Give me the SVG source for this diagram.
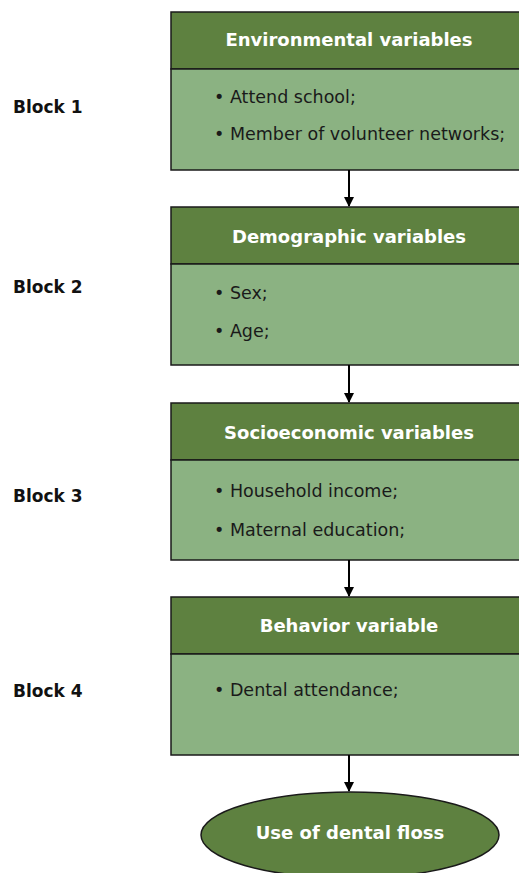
<svg xmlns="http://www.w3.org/2000/svg" width="519" height="873" viewBox="0 0 519 873">
<style>
.hd{fill:#5e8140;stroke:#1a1a1a;stroke-width:1.5}
.bd{fill:#8bb282;stroke:#1a1a1a;stroke-width:1.5}
.ht{font-family:"DejaVu Sans","Liberation Sans",sans-serif;font-weight:bold;font-size:18px;fill:#fff;text-anchor:middle}
.bt{font-family:"DejaVu Sans","Liberation Sans",sans-serif;font-size:17.5px;fill:#1a1a1a}
.bl{font-family:"DejaVu Sans","Liberation Sans",sans-serif;font-weight:bold;font-size:17px;fill:#111}
.cn{stroke:#000;stroke-width:2;fill:none}
</style>
<defs>
<marker id="ah" markerWidth="10" markerHeight="10" refX="9" refY="5" orient="auto" markerUnits="userSpaceOnUse">
<path d="M0,0 L10,5 L0,10 Z" fill="#000"/>
</marker>
</defs>
<g id="labels">
<text class="bl" x="13" y="113">Block 1</text>
<text class="bl" x="13" y="293">Block 2</text>
<text class="bl" x="13" y="502">Block 3</text>
<text class="bl" x="13" y="697">Block 4</text>
</g>
<g id="block1">
<rect class="hd" x="171" y="12" width="350" height="57"/>
<rect class="bd" x="171" y="69" width="350" height="101"/>
<text class="ht" x="349" y="46">Environmental variables</text>
<text class="bt" x="214" y="103">• Attend school;</text>
<text class="bt" x="214" y="140">• Member of volunteer networks;</text>
</g>
<g id="block2">
<rect class="hd" x="171" y="207" width="350" height="57"/>
<rect class="bd" x="171" y="264" width="350" height="101"/>
<text class="ht" x="349" y="243">Demographic variables</text>
<text class="bt" x="214" y="299">• Sex;</text>
<text class="bt" x="214" y="337">• Age;</text>
</g>
<g id="block3">
<rect class="hd" x="171" y="403" width="350" height="57"/>
<rect class="bd" x="171" y="460" width="350" height="100"/>
<text class="ht" x="349" y="439">Socioeconomic variables</text>
<text class="bt" x="214" y="497">• Household income;</text>
<text class="bt" x="214" y="536">• Maternal education;</text>
</g>
<g id="block4">
<rect class="hd" x="171" y="597" width="350" height="57"/>
<rect class="bd" x="171" y="654" width="350" height="101"/>
<text class="ht" x="349" y="632">Behavior variable</text>
<text class="bt" x="214" y="696">• Dental attendance;</text>
</g>
<g id="outcome">
<ellipse cx="350" cy="835" rx="149" ry="43" fill="#5e8140" stroke="#1a1a1a" stroke-width="1.5"/>
<text class="ht" x="350" y="839">Use of dental floss</text>
</g>
<g id="connectors">
<line class="cn" x1="349" y1="170" x2="349" y2="206" marker-end="url(#ah)"/>
<line class="cn" x1="349" y1="365" x2="349" y2="402" marker-end="url(#ah)"/>
<line class="cn" x1="349" y1="560" x2="349" y2="596" marker-end="url(#ah)"/>
<line class="cn" x1="349" y1="755" x2="349" y2="791" marker-end="url(#ah)"/>
</g>
</svg>
